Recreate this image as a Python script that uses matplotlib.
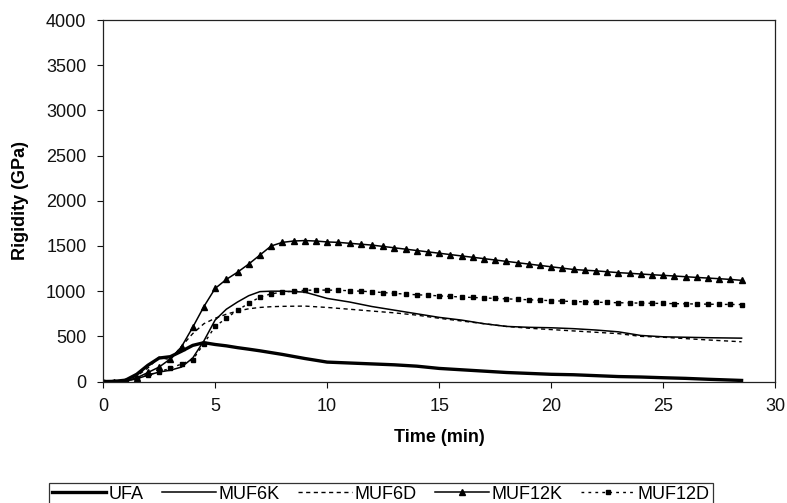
import matplotlib
matplotlib.use("Agg")
import matplotlib.pyplot as plt

plt.rcParams["font.family"] = ["Liberation Sans", "DejaVu Sans"]

# time grids (min)
t_coarse = [0, 0.5, 1, 1.5, 2, 2.5, 3, 3.5, 4, 4.5, 5, 5.5, 6, 6.5, 7, 7.5, 8, 9, 10,
            11, 12, 13, 14, 15, 16, 17, 18, 19, 20, 21, 22, 23, 24, 25, 26, 27, 28.5]
t_half = [i * 0.5 for i in range(58)]  # 0 .. 28.5, marker spacing

# rigidity (GPa)
ufa = [0, 2, 15, 80, 180, 260, 275, 335, 400, 430, 410, 395, 375, 358, 340, 320, 300,
       255, 215, 205, 195, 185, 170, 145, 130, 115, 100, 90, 80, 75, 65, 55, 50, 42, 35, 25, 12]
muf6k = [0, 0, 5, 30, 70, 105, 125, 160, 260, 450, 680, 800, 880, 950, 995, 1000, 1000,
         990, 920, 880, 830, 790, 750, 710, 680, 640, 610, 600, 595, 585, 570, 550, 510, 495,
         490, 485, 480]
muf6d = [0, 0, 10, 60, 150, 270, 240, 390, 530, 640, 700, 745, 780, 805, 820, 828, 832,
         835, 820, 800, 780, 760, 735, 700, 670, 640, 610, 590, 575, 560, 545, 530, 500, 490,
         475, 460, 440]
muf12k = [0, 0, 10, 40, 100, 160, 250, 385, 600, 830, 1030, 1130, 1210, 1300, 1400, 1500,
          1540, 1555, 1560, 1555, 1545, 1540, 1530, 1520, 1510, 1495, 1480, 1465, 1450, 1435,
          1420, 1405, 1390, 1375, 1360, 1345, 1330, 1315, 1300, 1285, 1270, 1255, 1240, 1232,
          1225, 1215, 1205, 1198, 1190, 1182, 1175, 1168, 1160, 1152, 1145, 1138, 1130, 1120]
muf12d = [0, 0, 5, 35, 70, 110, 145, 195, 240, 420, 610, 700, 790, 865, 935, 970, 990,
          1000, 1010, 1012, 1012, 1010, 1005, 1000, 993, 985, 975, 968, 960, 955, 948, 942,
          935, 930, 925, 920, 915, 910, 905, 900, 895, 890, 885, 882, 878, 875, 872, 870, 868,
          866, 864, 862, 860, 858, 856, 854, 853, 852]

fig = plt.figure(figsize=(7.87, 5.03), dpi=100)
ax = fig.add_axes([0.131, 0.2415, 0.854, 0.7185])

ax.plot(t_coarse, ufa, color="black", lw=2.4, label="UFA")
ax.plot(t_coarse, muf6k, color="black", lw=1.1, label="MUF6K")
ax.plot(t_coarse, muf6d, color="black", lw=1.0, ls=(0, (3, 2.5)), label="MUF6D")
ax.plot(t_half, muf12k, color="black", lw=1.1, marker="^", ms=5, label="MUF12K")
ax.plot(t_half, muf12d, color="black", lw=1.0, ls=(0, (2, 3)), marker="s", ms=3.5,
        label="MUF12D")

ax.set_xlim(0, 30)
ax.set_ylim(0, 4000)
ax.set_xticks(range(0, 31, 5))
ax.set_yticks(range(0, 4001, 500))
ax.tick_params(direction="out", length=4, width=0.8, labelsize=13, pad=8, colors="#111111")
for s in ax.spines.values():
    s.set_linewidth(0.9)
    s.set_color("#222222")

ax.set_xlabel("Time (min)", fontsize=13, fontweight="bold", labelpad=10)
ax.set_ylabel("Rigidity (GPa)", fontsize=13, fontweight="bold", labelpad=12)

leg = fig.legend(loc="upper center", bbox_to_anchor=(0.484, 0.058), ncol=5, fontsize=13,
                 frameon=True, fancybox=False, edgecolor="black", handlelength=3,
                 handletextpad=0.15, columnspacing=1.0, borderpad=0.15)
leg.get_frame().set_linewidth(0.9)

fig.savefig("out.png", dpi=100)
